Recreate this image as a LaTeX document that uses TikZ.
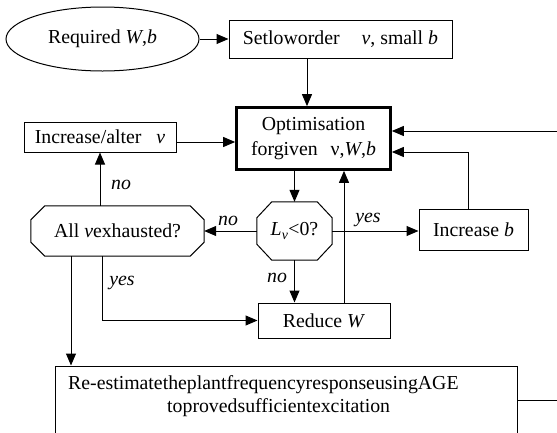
\documentclass[tikz,border=0pt]{standalone}
\usepackage{fontspec}
\setmainfont{Liberation Serif}
\usetikzlibrary{arrows.meta,shapes.geometric}

% draws a chamfered (octagonal) outline round a rectangular node
\newcommand\octpath[3]{%
  \draw[line width=1pt, line join=miter] ([xshift=#2]#1.north west) -- ([xshift=-#2]#1.north east)
    -- ([yshift=-#3]#1.north east) -- ([yshift=#3]#1.south east)
    -- ([xshift=-#2]#1.south east) -- ([xshift=#2]#1.south west)
    -- ([yshift=#3]#1.south west) -- ([yshift=-#3]#1.north west) -- cycle;}

\tikzset{
  txt/.style={font=\fontsize{19.8pt}{25pt}\selectfont, inner sep=0pt},
  box/.style={txt, draw, line width=1pt, rectangle, align=center},
  mainbox/.style={box, line width=2.7pt},
  oval/.style={txt, draw, line width=1pt, ellipse},
  octo/.style={txt, rectangle, align=center},
  lbl/.style={txt, font=\fontsize{19.8pt}{25pt}\selectfont\itshape},
  arr/.style={line width=1pt, -{Triangle[length=12pt,width=10pt]}},
}

\begin{document}
\begin{tikzpicture}[x=1pt,y=-1pt]
\useasboundingbox (0,0) rectangle (557,432);
\clip (0,0) rectangle (557,432);

% boxes
\node[oval, minimum width=193pt, minimum height=64pt] (req) at (102.5,39) {Required \textit{W},\textit{b}};
\node[box, minimum width=223pt, minimum height=38pt] (set) at (340.5,39) {Setloworder\hspace{17pt} \textit{v}, small \textit{b}};
\node[mainbox, minimum width=154pt, minimum height=62pt] (opt) at (313.5,138.5) {Optimisation\\forgiven\hspace{8pt} ν,\textit{W},\textit{b}};
\node[box, minimum width=152pt, minimum height=30pt] (inc) at (100,137) {Increase/alter\hspace{10pt} \textit{v}};
\node[box, minimum width=109pt, minimum height=41pt] (incb) at (473.5,229.5) {Increase \textit{b}};
\node[box, minimum width=132pt, minimum height=35pt] (red) at (324,320.5) {Reduce \textit{W}};
\node[box, minimum width=462pt, minimum height=79pt] (re) at (286,405.5) {};
\node[txt, anchor=base west] (re1) at (68,389) {Re-estimatetheplantfrequencyresponseusingAGE};
\node[txt, anchor=base west] (re2) at (167,412) {toprovedsufficientexcitation};

% decision octagons
\node[octo, minimum width=173pt, minimum height=50pt] (allv) at (117.5,231) {All \textit{v}exhausted?};
\octpath{allv}{14pt}{14pt}
\node[octo, minimum width=75pt, minimum height=58pt] (lv) at (294.5,231) {\textit{L}\textsubscript{\textit{v}}<0?};
\octpath{lv}{15pt}{16pt}

% connectors
\draw[arr] (req.east) -- (set.west);
\draw[arr] (set.south -| 307,0) -- (opt.north -| 307,0);
\draw[arr] (inc.east |- 0,142) -- (opt.west |- 0,142);
\draw[arr] (opt.south -| lv.north) -- (lv.north);
\draw[arr] (lv.west) -- (allv.east);
\draw[arr] (allv.north -| inc.south) -- (inc.south);
\draw[arr] (lv.east) -- (incb.west |- lv.east);
\draw[arr] ([xshift=-5pt]incb.north) |- (opt.east |- 0,152);
\draw[arr] (lv.south) -- (red.north -| lv.south);
\draw[arr] (red.north -| 344,0) -- (opt.south -| 344,0);
\draw[arr] (allv.south -| 102,0) |- (red.west);
\draw[arr] (allv.south -| 71,0) -- (re.north -| 71,0);
\coordinate (loopb) at (570,400);
\coordinate (loopt) at (570,131);
\draw[arr] (re.east |- loopb) -- (loopb) -- (loopt) -- (opt.east |- loopt);

% branch labels
\node[lbl] (lno) at (121,185) {no};
\node[lbl] (mno) at (228,221) {no};
\node[lbl] (ryes) at (368,220) {yes};
\node[lbl] (lyes) at (122,283) {yes};
\node[lbl] (dno) at (277,278) {no};
\end{tikzpicture}
\end{document}
